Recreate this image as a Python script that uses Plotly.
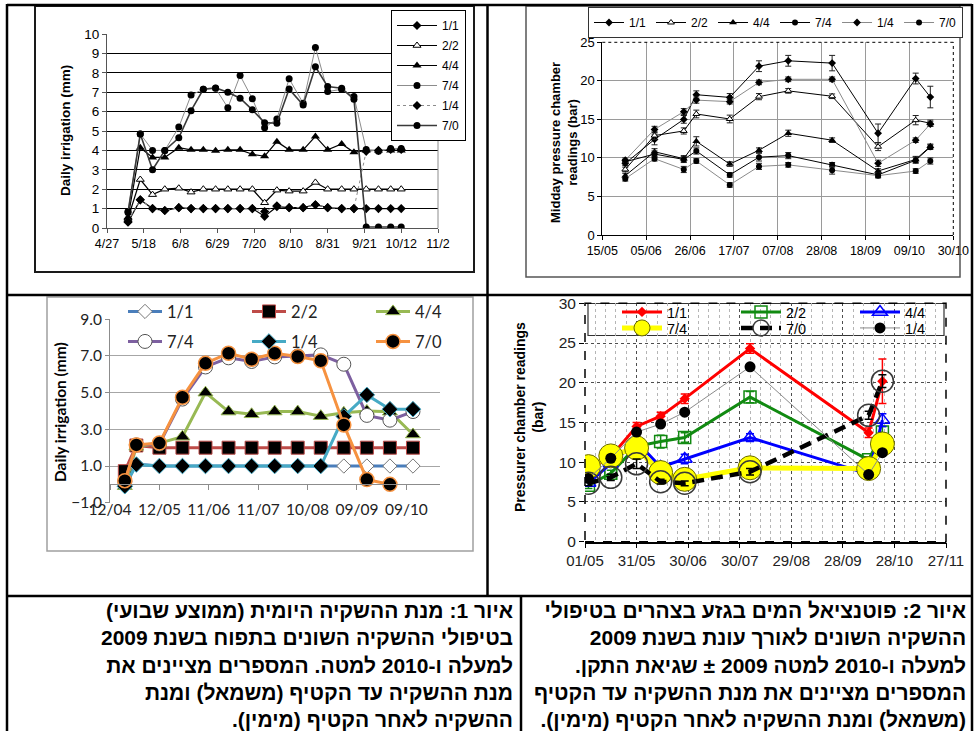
import plotly.graph_objects as go

W, H = 975, 731
DAY = 86400000


def px(x):
    return x / W


def py(y):
    return 1 - y / H


ARIAL = "Liberation Sans, Arial, sans-serif"
CALIBRI = "Lato, Open Sans, sans-serif"
HEB = "Liberation Sans, DejaVu Sans, sans-serif"

# ---------------- 2009 daily irrigation (weekly means, mm) ----------------
irr09_dates = ["2009-05-09", "2009-05-16", "2009-05-23", "2009-05-30", "2009-06-07", "2009-06-14",
               "2009-06-21", "2009-06-28", "2009-07-05", "2009-07-12", "2009-07-19", "2009-07-26",
               "2009-08-02", "2009-08-09", "2009-08-17", "2009-08-24", "2009-08-31", "2009-09-08",
               "2009-09-15", "2009-09-22", "2009-09-29", "2009-10-06", "2009-10-12"]
irr09_1_1 = [0.3, 1.45, 1.0, 0.9, 1.05, 1.0, 1.0, 1.0, 1.0, 1.0, 1.0, 0.6, 1.1, 1.05, 1.05, 1.2,
             1.05, 1.0, 1.0, 1.0, 1.0, 1.0, 1.0]
irr09_2_2 = [0.5, 2.5, 1.72, 2.0, 2.05, 1.85, 2.0, 2.0, 2.0, 2.0, 2.0, 1.3, 1.95, 1.9, 1.9, 2.35,
             2.0, 2.0, 2.0, 2.0, 2.0, 2.0, 2.0]
irr09_4_4 = [0.55, 4.14, 3.64, 3.64, 4.14, 4.03, 4.03, 3.98, 4.03, 4.03, 3.8, 3.7, 4.45, 4.03, 4.03,
             4.72, 4.03, 4.33, 3.9, 4.0, 4.0, 4.0, 4.0]
irr09_7_4 = [0.85, 4.85, 4.0, 4.0, 5.2, 6.85, 7.15, 7.2, 6.2, 7.86, 6.66, 5.17, 5.62, 7.69, 6.43,
             9.31, 7.03, 7.15, 6.78, 4.05, 3.95, 4.1, 4.1]
irr09_1_4 = [0.35, 1.45, 1.0, 0.9, 1.05, 1.0, 1.0, 1.0, 1.0, 1.0, 1.0, 0.85, 1.15, 1.05, 1.05, 1.2,
             1.05, 1.0, 1.0, 3.95, 4.0, 4.05, 4.05]
irr09_7_0 = [0.8, 4.85, 3.0, 4.0, 4.65, 6.05, 7.15, 7.22, 7.0, 6.69, 6.09, 5.43, 5.4, 7.16, 6.34,
             8.31, 7.29, 7.2, 6.64, 0.05, 0.05, 0.05, 0.05]

# ---------------- 2009 midday stem water potential (bar) ----------------
psi09_dates = ["2009-05-26", "2009-06-09", "2009-06-23", "2009-06-29", "2009-07-15", "2009-07-29",
               "2009-08-12", "2009-09-02", "2009-09-24", "2009-10-12", "2009-10-19"]
psi09_1_1 = [9.3, 12.4, 15.0, 18.2, 17.85, 21.9, 22.6, 22.3, 13.2, 20.3, 17.9]
psi09_2_2 = [8.5, 12.9, 13.5, 15.7, 15.05, 17.95, 18.7, 18.0, 11.45, 14.9, 14.5]
psi09_4_4 = [7.7, 10.8, 9.9, 12.15, 9.2, 11.0, 13.2, 12.3, 8.3, 9.8, 11.5]
psi09_7_4 = [9.5, 10.5, 9.8, 10.9, 7.8, 10.1, 10.3, 9.1, 7.8, 9.7, 11.4]
psi09_1_4 = [9.7, 13.7, 16.0, 17.5, 17.3, 19.8, 20.2, 20.2, 9.3, 12.3, 14.4]
psi09_7_0 = [7.3, 9.9, 8.5, 9.6, 6.5, 8.9, 9.1, 8.4, 7.7, 8.3, 9.6]
psi09_err_1_1 = [0.3, 0.7, 0.5, 0.5, 0.5, 0.7, 0.7, 1.0, 1.2, 0.7, 1.4]
psi09_err_2_2 = [0.3, 0.5, 0.4, 0.5, 0.5, 0.4, 0.3, 0.3, 0.5, 0.6, 0.4]
psi09_err_4_4 = [0.3, 0.4, 0.4, 0.6, 0.3, 0.3, 0.4, 0.3, 0.3, 0.4, 0.3]
psi09_err_7_4 = [0.3, 0.4, 0.4, 0.4, 0.3, 0.5, 0.4, 0.3, 0.3, 0.4, 0.3]
psi09_err_1_4 = [0.3, 0.4, 0.4, 0.4, 0.3, 0.3, 0.3, 0.3, 0.4, 0.3, 0.3]
psi09_err_7_0 = [0.3, 0.3, 0.4, 0.3, 0.3, 0.4, 0.3, 0.5, 0.3, 0.3, 0.4]

# ---------------- 2010 daily irrigation (mm) ----------------
irr10_dates = ["2010-04-21", "2010-04-28", "2010-05-12", "2010-05-26", "2010-06-09", "2010-06-23",
               "2010-07-07", "2010-07-21", "2010-08-04", "2010-08-18", "2010-09-01", "2010-09-15",
               "2010-09-29", "2010-10-13"]
irr10_1_1 = [-0.1, 1.1, 1.0, 1.0, 1.0, 1.0, 1.0, 1.0, 1.0, 1.0, 1.0, 1.0, 1.0, 1.0]
irr10_2_2 = [0.72, 2.12, 2.0, 2.0, 2.0, 2.0, 2.0, 2.0, 2.0, 2.0, 2.0, 2.0, 2.0, 2.0]
irr10_4_4 = [-0.1, 2.05, 2.25, 2.6, 5.0, 3.97, 3.82, 3.97, 3.97, 3.72, 3.9, 4.0, 3.96, 2.72]
irr10_7_4 = [0.15, 2.15, 2.2, 4.65, 6.4, 6.9, 6.7, 6.95, 7.0, 7.06, 6.55, 3.76, 3.5, 3.97]
irr10_1_4 = [-0.1, 1.08, 1.0, 1.0, 1.0, 1.0, 1.0, 1.0, 1.0, 1.0, 3.7, 4.88, 4.1, 4.1]
irr10_7_0 = [0.2, 2.15, 2.25, 4.75, 6.6, 7.15, 6.82, 7.15, 6.97, 6.74, 3.24, 0.26, 0.0, None]

# ---------------- 2010 stem water potential (bar) ----------------
psi10_dates = ["2010-05-03", "2010-05-16", "2010-05-31", "2010-06-14", "2010-06-28", "2010-08-05",
               "2010-10-13", "2010-10-21"]
psi10_1_1 = [9.0, 10.7, 14.5, 15.8, 18.0, 24.3, 13.7, 20.2]
psi10_2_2 = [7.1, 8.6, 12.0, 12.6, 13.1, 18.2, 10.3, 13.8]
psi10_4_4 = [7.4, 9.8, 12.6, 9.4, 10.4, 13.1, 8.5, 15.3]
psi10_7_4 = [9.45, 10.8, 11.8, 8.7, 7.85, 9.3, 9.2, 12.3]
psi10_7_0 = [7.35, 8.1, 9.8, 7.55, 7.35, 8.8, 15.9, 20.2]
psi10_1_4 = [7.95, 10.5, 13.8, 14.8, 16.3, 22.0, 8.45, 11.2]
psi10_err_1_1 = [0.4, 0.4, 0.5, 0.5, 0.6, 0.6, 0.6, 2.8]
psi10_err_2_2 = [0.4, 0.4, 0.4, 0.8, 0.6, 0.7, 0.4, 0.7]
psi10_err_4_4 = [0.4, 0.4, 0.5, 0.4, 0.6, 0.5, 0.4, 0.8]
psi10_err_7_0 = [0.3, 0.4, 0.6, 0.3, 0.3, 0.4, 0.5, 0.8]

fig = go.Figure()

# ---------- top-left: 2009 irrigation ----------
p1 = [
    ("1/1", irr09_1_1, dict(color="black", width=1.2), dict(symbol="diamond", size=7, color="black")),
    ("2/2", irr09_2_2, dict(color="black", width=1.2),
     dict(symbol="triangle-up", size=7, color="white", line=dict(color="black", width=1))),
    ("4/4", irr09_4_4, dict(color="black", width=1.2), dict(symbol="triangle-up", size=8, color="black")),
    ("7/4", irr09_7_4, dict(color="#8c8c8c", width=1), dict(symbol="circle", size=7, color="black")),
    ("1/4", irr09_1_4, dict(color="#8c8c8c", width=1, dash="dot"), dict(symbol="diamond", size=7, color="black")),
    ("7/0", irr09_7_0, dict(color="#3a3a3a", width=1.6), dict(symbol="circle", size=7, color="black")),
]
for i, (name, ys, ln, mk) in enumerate(p1):
    fig.add_trace(go.Scatter(x=irr09_dates, y=ys, name=name, mode="lines+markers", line=ln, marker=mk,
                             xaxis="x", yaxis="y", legend="legend", legendgroup=f"p1_{i}"))

# ---------- top-right: 2009 water potential ----------
p2 = [
    ("1/1", psi09_1_1, psi09_err_1_1, "black", dict(symbol="diamond", size=6, color="black")),
    ("2/2", psi09_2_2, psi09_err_2_2, "black",
     dict(symbol="triangle-up", size=6, color="white", line=dict(color="black", width=1))),
    ("4/4", psi09_4_4, psi09_err_4_4, "black", dict(symbol="triangle-up", size=7, color="black")),
    ("7/4", psi09_7_4, psi09_err_7_4, "black", dict(symbol="circle", size=6, color="black")),
    ("1/4", psi09_1_4, psi09_err_1_4, "#8a8a8a", dict(symbol="diamond", size=6, color="black")),
    ("7/0", psi09_7_0, psi09_err_7_0, "#8a8a8a", dict(symbol="circle", size=6, color="black")),
]
for name, ys, err, col, mk in p2:
    fig.add_trace(go.Scatter(x=psi09_dates, y=ys, name=name, mode="lines+markers",
                             line=dict(color=col, width=1), marker=mk,
                             error_y=dict(type="data", array=err, color="#222", thickness=1, width=3),
                             xaxis="x2", yaxis="y2", legend="legend2"))

# ---------- bottom-left: 2010 irrigation ----------
p3 = [
    ("1/1", irr10_1_1, "#4a7ebb", dict(symbol="diamond", size=11, color="white", line=dict(color="#777", width=1)), "legend3"),
    ("2/2", irr10_2_2, "#be4b48", dict(symbol="square", size=13, color="black", line=dict(color="#be4b48", width=1)), "legend3"),
    ("4/4", irr10_4_4, "#98b954", dict(symbol="triangle-up", size=13, color="black", line=dict(color="#98b954", width=1)), "legend3"),
    ("7/4", irr10_7_4, "#7d60a0", dict(symbol="circle", size=14, color="white", line=dict(color="#555", width=1)), "legend4"),
    ("1/4", irr10_1_4, "#46aac5", dict(symbol="diamond", size=12, color="black", line=dict(color="#46aac5", width=1)), "legend4"),
    ("7/0", irr10_7_0, "#f69240", dict(symbol="circle", size=14, color="black", line=dict(color="#f69240", width=1.5)), "legend4"),
]
for name, ys, col, mk, lg in p3:
    fig.add_trace(go.Scatter(x=irr10_dates, y=ys, name=name, mode="lines+markers",
                             line=dict(color=col, width=3), marker=mk,
                             xaxis="x3", yaxis="y3", legend=lg))

# ---------- bottom-right: 2010 water potential ----------
p4 = [
    ("1/1", psi10_1_1, psi10_err_1_1, dict(color="red", width=3),
     dict(symbol="diamond", size=8, color="red"), "red", "legend5"),
    ("2/2", psi10_2_2, psi10_err_2_2, dict(color="#118a11", width=3),
     dict(symbol="square-open", size=12, color="#118a11", line=dict(width=1.5)), "#118a11", "legend5"),
    ("4/4", psi10_4_4, psi10_err_4_4, dict(color="#0000ff", width=3),
     dict(symbol="triangle-up-open", size=13, color="#0000ff", line=dict(width=1.5)), "#0000ff", "legend5"),
    ("7/4", psi10_7_4, None, dict(color="#ffff00", width=5),
     dict(symbol="circle", size=24, color="#ffff00", line=dict(color="#6b6b00", width=1)), None, "legend6"),
    ("7/0", psi10_7_0, psi10_err_7_0, dict(color="black", width=4.5, dash="12px,7px"),
     dict(symbol="circle-open", size=22, color="#3a3a3a", line=dict(width=1.5)), "black", "legend6"),
    ("1/4", psi10_1_4, None, dict(color="#8a8a8a", width=1),
     dict(symbol="circle", size=11, color="black"), None, "legend6"),
]
for name, ys, err, ln, mk, ecol, lg in p4:
    ey = dict(type="data", array=err, color=ecol, thickness=1.5, width=4) if err else None
    fig.add_trace(go.Scatter(x=psi10_dates, y=ys, name=name, mode="lines+markers", line=ln, marker=mk,
                             error_y=ey, xaxis="x4", yaxis="y4", legend=lg))

# ---------- axes ----------
tick_black = dict(family=ARIAL, size=12.5, color="black")
fig.update_layout(
    xaxis=dict(domain=[px(107), px(438)], anchor="y", type="date", range=["2009-04-27", "2009-11-02"],
               tick0="2009-04-27", dtick=21 * DAY, tickformat="%-m/%-d", showgrid=False, zeroline=False,
               showline=True, linecolor="#555", linewidth=1, ticks="outside", ticklen=4, tickcolor="#555",
               tickfont=tick_black),
    yaxis=dict(domain=[py(228), py(34)], anchor="x", range=[0, 10], dtick=1, showgrid=True,
               gridcolor="black", gridwidth=1, zeroline=False, showline=True, linecolor="#555",
               ticks="outside", ticklen=4, tickcolor="#555", tickfont=dict(family=ARIAL, size=13.5, color="black")),
    xaxis2=dict(domain=[px(602.3), px(953.3)], anchor="y2", type="date", range=["2009-05-15", "2009-10-30"],
                tick0="2009-05-15", dtick=21 * DAY, tickformat="%d/%m", showgrid=True, gridcolor="#9a9a9a",
                gridwidth=1, zeroline=False, showline=True, linecolor="black", ticks="outside", ticklen=4,
                tickcolor="black", tickfont=tick_black),
    yaxis2=dict(domain=[py(235), py(42.3)], anchor="x2", range=[0, 25], dtick=5, showgrid=True,
                gridcolor="#9a9a9a", gridwidth=1, zeroline=False, showline=True, linecolor="black",
                ticks="outside", ticklen=4, tickcolor="black", tickfont=dict(family=ARIAL, size=13, color="black")),
    xaxis3=dict(domain=[px(110), px(440)], anchor="free", position=py(484.4), type="date",
                range=["2010-04-12", "2010-10-29 10:00"], tick0="2010-04-12", dtick=30 * DAY,
                tickformat="%d/%m", showgrid=False, zeroline=False, showline=True, linecolor="#8c8c8c",
                linewidth=1, ticks="outside", ticklen=5, tickcolor="#8c8c8c", ticklabelstandoff=6,
                tickfont=dict(family=CALIBRI, size=15.5, color="#222")),
    yaxis3=dict(domain=[py(502.7), py(319.3)], anchor="x3", range=[-1, 9], tick0=-1, dtick=2,
                tickformat=".1f", showgrid=True, gridcolor="#a6a6a6", gridwidth=1, zeroline=False,
                showline=True, linecolor="#8c8c8c", ticks="outside", ticklen=4, tickcolor="#8c8c8c",
                tickfont=dict(family=CALIBRI, size=15.5, color="#222")),
    xaxis4=dict(domain=[px(585), px(946)], anchor="y4", type="date", range=["2010-05-01", "2010-11-27"],
                tick0="2010-05-01", dtick=30 * DAY, tickformat="%d/%m", showgrid=True, griddash="dot",
                gridcolor="#4d4d4d", gridwidth=1, zeroline=False, showline=True, linecolor="black",
                linewidth=1.5, ticks="outside", ticklen=5, tickcolor="black",
                minor=dict(tick0="2010-05-01", dtick=6 * DAY, showgrid=True, griddash="dot",
                           gridcolor="#b5b5b5", gridwidth=1),
                tickfont=dict(family=ARIAL, size=15, color="#222")),
    yaxis4=dict(domain=[py(541.7), py(303.3)], anchor="x4", range=[0, 30], dtick=5, showgrid=True,
                griddash="dot", gridcolor="#4d4d4d", gridwidth=1, zeroline=False, showline=False,
                ticks="outside", ticklen=5, tickcolor="black",
                tickfont=dict(family=ARIAL, size=15.5, color="#222")),
)

# ---------- legends ----------
fig.update_layout(
    legend=dict(x=px(391), y=py(10), xanchor="left", yanchor="top", bgcolor="white", bordercolor="black",
                borderwidth=1, font=dict(family=ARIAL, size=12, color="black"), tracegroupgap=1,
                itemwidth=40, orientation="v"),
    legend2=dict(x=px(588), y=py(7), xanchor="left", yanchor="top", bgcolor="white", bordercolor="#333",
                 borderwidth=1, font=dict(family=ARIAL, size=12, color="black"), orientation="h",
                 itemwidth=30),
    legend3=dict(x=px(123), y=py(311.7), xanchor="left", yanchor="middle", bgcolor="rgba(0,0,0,0)",
                 font=dict(family=CALIBRI, size=16.5, color="#222"), orientation="h", itemwidth=34,
                 entrywidth=75),
    legend4=dict(x=px(123), y=py(341.7), xanchor="left", yanchor="middle", bgcolor="rgba(0,0,0,0)",
                 font=dict(family=CALIBRI, size=16.5, color="#222"), orientation="h", itemwidth=34,
                 entrywidth=75),
    legend5=dict(x=px(617), y=py(312), xanchor="left", yanchor="middle", bgcolor="rgba(0,0,0,0)",
                 font=dict(family=ARIAL, size=14.5, color="black"), orientation="h", itemwidth=40,
                 entrywidth=64),
    legend6=dict(x=px(617), y=py(328), xanchor="left", yanchor="middle", bgcolor="rgba(0,0,0,0)",
                 font=dict(family=ARIAL, size=14.5, color="black"), orientation="h", itemwidth=40,
                 entrywidth=64),
)

# ---------- frames, borders and plot-area outlines ----------
shapes = []


def prect(x0, y0, x1, y1, color, width, dash="solid", layer="above", fill="rgba(0,0,0,0)"):
    shapes.append(dict(type="rect", xref="paper", yref="paper", x0=px(x0), x1=px(x1), y0=py(y0), y1=py(y1),
                       line=dict(color=color, width=width, dash=dash), fillcolor=fill, layer=layer))


def pline(x0, y0, x1, y1, color="black", width=2.5):
    shapes.append(dict(type="line", xref="paper", yref="paper", x0=px(x0), x1=px(x1), y0=py(y0), y1=py(y1),
                       line=dict(color=color, width=width)))


# chart-area borders
prect(35, 6, 474, 272, "#1a1a1a", 2)
prect(526, 6, 960, 277, "#555", 1.5)
prect(47, 297, 473, 551, "#a0a0a0", 1.5)

# plot-area edges
shapes.append(dict(type="line", xref="x domain", yref="y domain", x0=1, x1=1, y0=0, y1=1,
                   line=dict(color="#8c8c8c", width=1)))
shapes.append(dict(type="line", xref="x2 domain", yref="y2 domain", x0=0, x1=1, y0=1, y1=1,
                   line=dict(color="black", width=1, dash="dot")))
shapes.append(dict(type="line", xref="x2 domain", yref="y2 domain", x0=1, x1=1, y0=0, y1=1,
                   line=dict(color="black", width=1, dash="dot")))
shapes.append(dict(type="rect", xref="x4 domain", yref="y4 domain", x0=0, x1=1, y0=0, y1=1,
                   line=dict(color="black", width=1.5, dash="dash")))
# legend box of the bottom-right chart
prect(588, 303.5, 944, 335.5, "#333", 1.2, layer="between", fill="white")

# table grid
pline(7, 5, 972, 5)
pline(7, 295, 972, 295)
pline(7, 596, 972, 596)
pline(7, 4, 7, 731)
pline(972, 4, 972, 731)
pline(487.5, 5, 487.5, 596)
pline(521, 596, 521, 731)

fig.update_layout(shapes=shapes)

# ---------- axis titles ----------
annotations = [
    dict(text="Daily irrigation (mm)", x=px(65), y=py(131), textangle=-90,
         font=dict(family=ARIAL, size=13.5, color="black", weight="bold")),
    dict(text="Midday pressure chamber<br>readings (bar)", x=px(564), y=py(143), textangle=-90,
         font=dict(family=ARIAL, size=13, color="black", weight="bold")),
    dict(text="Daily irrigation (mm)", x=px(60), y=py(412), textangle=-90,
         font=dict(family=CALIBRI, size=15.5, color="black", weight="bold")),
    dict(text="Pressurer chamber readings<br>(bar)", x=px(529), y=py(417), textangle=-90,
         font=dict(family=ARIAL, size=14, color="black", weight="bold")),
]
for a in annotations:
    a.update(xref="paper", yref="paper", showarrow=False, xanchor="center", yanchor="middle")

# ---------- captions ----------
RLM = "\u200f"
cap1 = ["איור 1: מנת ההשקיה היומית (ממוצע שבועי)",
        "בטיפולי ההשקיה השונים בתפוח בשנת 2009",
        "למעלה ו-2010 למטה. המספרים מציינים את",
        "מנת ההשקיה עד הקטיף (משמאל) ומנת",
        "ההשקיה לאחר הקטיף (מימין)."]
cap2 = ["איור 2: פוטנציאל המים בגזע בצהרים בטיפולי",
        "ההשקיה השונים לאורך עונת בשנת 2009",
        "למעלה ו-2010 למטה 2009 ± שגיאת התקן.",
        "המספרים מציינים את מנת ההשקיה עד הקטיף",
        "(משמאל) ומנת ההשקיה לאחר הקטיף (מימין)."]
for lines, xr in ((cap1, 515), (cap2, 968)):
    annotations.append(dict(text="<br>".join(RLM + s + RLM for s in lines), xref="paper", yref="paper",
                            x=px(xr), y=py(597), xanchor="right", yanchor="top", align="right",
                            showarrow=False, font=dict(family=HEB, size=21, color="black", weight="bold")))

fig.update_layout(annotations=annotations)

fig.update_layout(width=W, height=H, margin=dict(l=0, r=0, t=0, b=0), paper_bgcolor="white",
                  plot_bgcolor="white", template="none", showlegend=True,
                  font=dict(family=ARIAL, color="black"))

fig.write_html("out.html")
